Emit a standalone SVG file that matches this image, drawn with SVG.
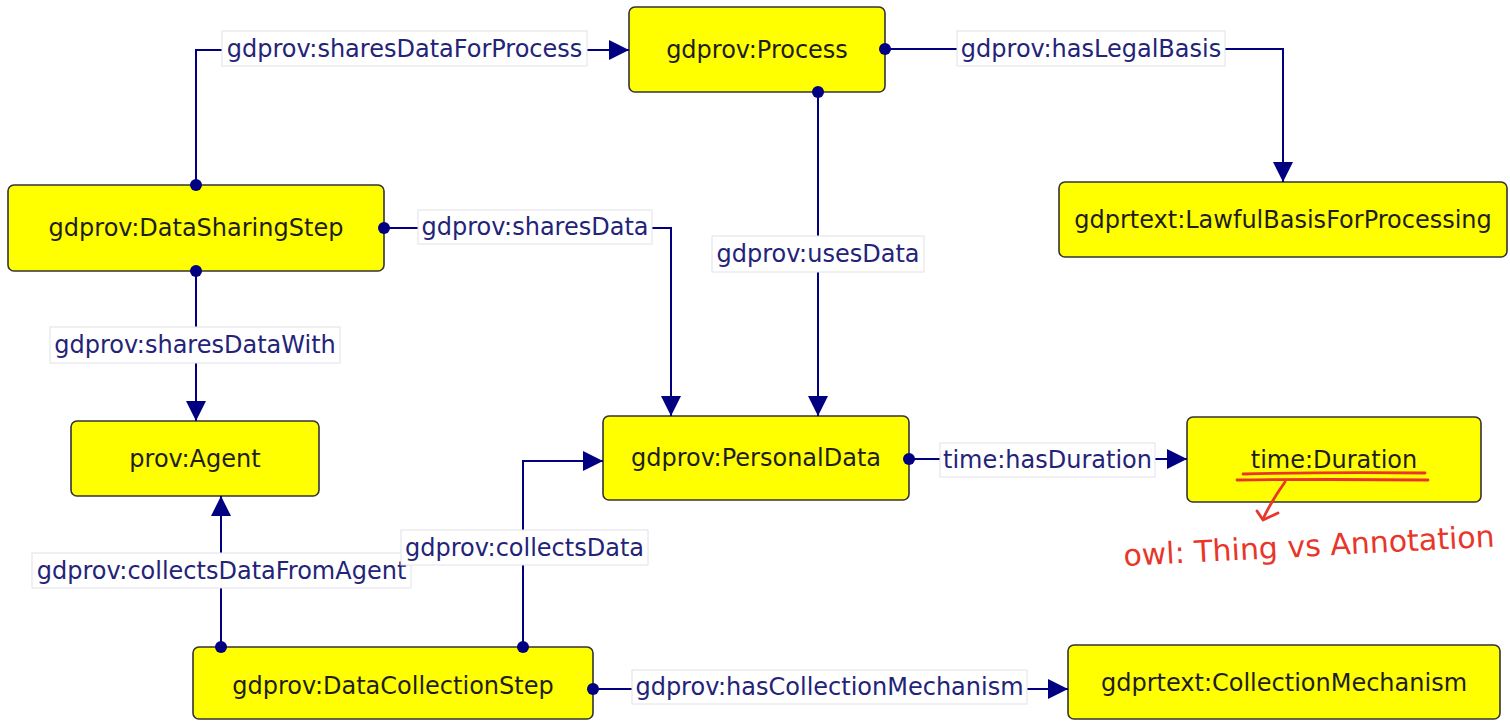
<svg xmlns="http://www.w3.org/2000/svg" width="1510" height="721" viewBox="0 0 1510 721">
<defs>
<style>
.node rect{fill:#ffff00;stroke:#333333;stroke-width:1.6}
.node text{font-family:"DejaVu Sans",sans-serif;font-size:24px;fill:#1e1e1e;text-anchor:middle}
.edge path{fill:none;stroke:#000080;stroke-width:2;marker-start:url(#dot);marker-end:url(#arrow)}
.lbl rect{fill:#ffffff;stroke:#e2e2ea;stroke-width:1}
.lbl text{font-family:"DejaVu Sans",sans-serif;font-size:24px;fill:#232378;text-anchor:middle}
.note{fill:none;stroke:#e8362a;stroke-width:2.8;stroke-linecap:round;stroke-linejoin:round}
</style>
<marker id="arrow" markerUnits="userSpaceOnUse" markerWidth="20" markerHeight="20" refX="20" refY="10" orient="auto"><path d="M0,0 L20,10 L0,20 z" fill="#000080"/></marker>
<marker id="dot" markerUnits="userSpaceOnUse" markerWidth="14" markerHeight="14" refX="7" refY="7" orient="auto"><circle cx="7" cy="7" r="6" fill="#000080"/></marker>
</defs>
<rect width="1510" height="721" fill="#ffffff"/>
<g id="process" class="node"><rect x="629" y="7" width="256" height="85" rx="6"/><text x="757" y="49.5" dy="0.35em">gdprov:Process</text></g>
<g id="dataSharingStep" class="node"><rect x="8" y="185" width="376" height="86" rx="6"/><text x="196" y="228" dy="0.35em">gdprov:DataSharingStep</text></g>
<g id="lawfulBasis" class="node"><rect x="1059" y="182" width="448" height="75" rx="6"/><text x="1283" y="219.5" dy="0.35em">gdprtext:LawfulBasisForProcessing</text></g>
<g id="agent" class="node"><rect x="71" y="421" width="248" height="75" rx="6"/><text x="195" y="458.5" dy="0.35em">prov:Agent</text></g>
<g id="personalData" class="node"><rect x="603" y="416" width="306" height="84" rx="6"/><text x="756" y="458" dy="0.35em">gdprov:PersonalData</text></g>
<g id="duration" class="node"><rect x="1187" y="417" width="294" height="85" rx="6"/><text x="1334" y="459.5" dy="0.35em">time:Duration</text></g>
<g id="dataCollectionStep" class="node"><rect x="193" y="647" width="400" height="72" rx="6"/><text x="393" y="686" dy="0.35em">gdprov:DataCollectionStep</text></g>
<g id="collectionMechanism" class="node"><rect x="1068" y="645" width="432" height="74" rx="6"/><text x="1284" y="683" dy="0.35em">gdprtext:CollectionMechanism</text></g>
<g id="connectors">
<g class="edge">
<path d="M196,185 V50 H629"/>
<path d="M885,49 H1283 V182"/>
<path d="M818,92 V416"/>
<path d="M384,228 H671 V416"/>
<path d="M196,271 V421"/>
<path d="M221,647 V496"/>
<path d="M523,647 V461 H603"/>
<path d="M909,459 H1187"/>
<path d="M593,689 H1068"/>
</g>
<g class="lbl">
<rect x="222" y="31" width="365" height="35"/><text x="404.5" y="48.5" dy="0.35em">gdprov:sharesDataForProcess</text>
<rect x="957" y="31" width="268" height="35"/><text x="1091" y="48.5" dy="0.35em">gdprov:hasLegalBasis</text>
<rect x="712" y="236" width="212" height="36"/><text x="818" y="254" dy="0.35em">gdprov:usesData</text>
<rect x="418" y="210" width="234" height="34"/><text x="535" y="227" dy="0.35em">gdprov:sharesData</text>
<rect x="50" y="327" width="290" height="36"/><text x="195" y="345" dy="0.35em">gdprov:sharesDataWith</text>
<rect x="32" y="553" width="379" height="35"/><text x="221.5" y="570.5" dy="0.35em">gdprov:collectsDataFromAgent</text>
<rect x="401" y="530" width="247" height="35"/><text x="524.5" y="547.5" dy="0.35em">gdprov:collectsData</text>
<rect x="940" y="443" width="215" height="34"/><text x="1047.5" y="460" dy="0.35em">time:hasDuration</text>
<rect x="632" y="670" width="395" height="34"/><text x="829.5" y="687" dy="0.35em">gdprov:hasCollectionMechanism</text>
</g>
</g>
<g id="annotation">
<path class="note" d="M1243,474 Q1330,472 1425,473"/>
<path class="note" d="M1237,480 Q1330,479 1428,480"/>
<path class="note" d="M1285,482 Q1272,500 1263,519"/>
<path class="note" d="M1257,511 L1263,520 L1278,513"/>
<text x="1124" y="566" transform="rotate(-3 1124 566)" font-family="DejaVu Sans, sans-serif" font-size="30" fill="#e8362a">owl: Thing vs Annotation</text>
</g>
</svg>
